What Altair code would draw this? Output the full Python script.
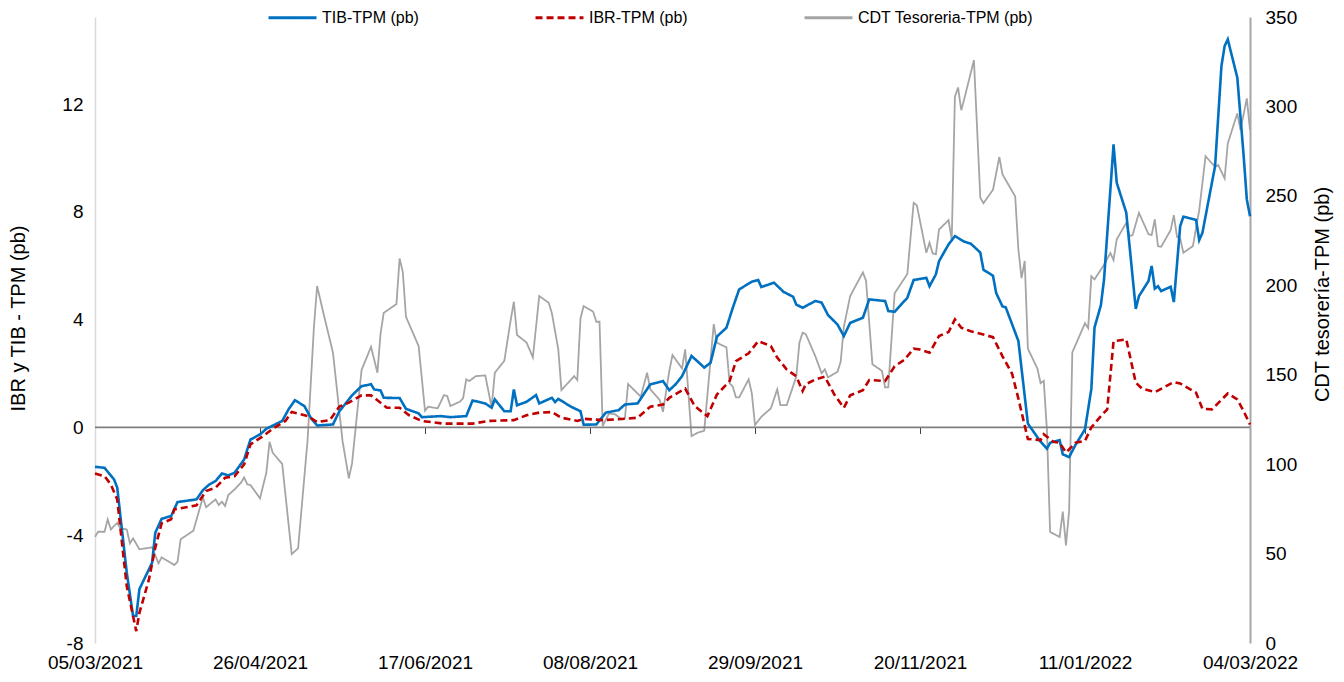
import altair as alt
import pandas as pd

# ---------------- data ----------------
start_date = "2021-03-05"   # day 0 of the series

series_names = ["TIB-TPM (pb)", "IBR-TPM (pb)", "CDT Tesoreria-TPM (pb)"]

tib_days = [0, 3, 6, 7, 10, 12, 13, 14, 18, 19,
            21, 24, 26, 32, 34, 36, 38, 40, 42, 44,
            47, 49, 52, 54, 59, 61, 63, 66, 68, 70,
            75, 77, 79, 81, 84, 87, 88, 90, 91, 96,
            98, 102, 103, 109, 112, 117, 119, 123, 125, 126,
            129, 131, 132, 133, 136, 139, 140, 144, 145, 146,
            150, 153, 154, 158, 161, 165, 167, 171, 175, 179,
            181, 183, 185, 188, 190, 192, 194, 196, 199, 201,
            203, 207, 209, 210, 214, 217, 220, 221, 223, 227,
            229, 231, 234, 236, 238, 242, 244, 249, 250, 252,
            256, 258, 262, 263, 265, 266, 269, 271, 274, 276,
            279, 280, 283, 284, 286, 287, 291, 294, 298, 300,
            301, 304, 305, 307, 309, 312, 314, 315, 317, 318,
            321, 322, 325, 328, 329, 332, 333, 334, 335, 336,
            339, 340, 342, 343, 347, 348, 349, 353, 355, 356,
            357, 360, 362, 363, 364]
tib_vals = [-1.46, -1.50, -1.93, -2.23, -5.38, -7.0, -7.0, -6.0, -5.02, -3.91,
            -3.39, -3.29, -2.77, -2.67, -2.33, -2.12, -1.99, -1.71, -1.78, -1.68,
            -1.19, -0.45, -0.26, -0.05, 0.24, 0.67, 1.01, 0.79, 0.36, 0.07,
            0.11, 0.60, 0.89, 1.19, 1.53, 1.60, 1.41, 1.37, 1.10, 1.09,
            0.69, 0.52, 0.38, 0.42, 0.38, 0.42, 1.00, 0.89, 0.73, 1.04,
            0.60, 0.60, 1.41, 0.82, 0.95, 1.20, 0.89, 1.10, 0.94, 1.06,
            0.77, 0.60, 0.10, 0.11, 0.55, 0.64, 0.85, 0.89, 1.60, 1.72,
            1.38, 1.60, 1.90, 2.65, 2.44, 2.22, 2.40, 3.37, 3.70, 4.44,
            5.12, 5.41, 5.47, 5.21, 5.37, 5.03, 4.85, 4.56, 4.44, 4.69,
            4.63, 4.17, 3.82, 3.39, 3.88, 4.07, 4.75, 4.69, 4.32, 4.29,
            4.81, 5.47, 5.55, 5.24, 5.68, 6.17, 6.79, 7.10, 6.89, 6.82,
            6.49, 5.85, 5.63, 4.99, 4.49, 4.46, 3.21, 0.14, -0.53, -0.79,
            -0.57, -0.47, -1.00, -1.10, -0.65, -0.07, 1.43, 3.71, 4.53, 5.49,
            10.50, 9.08, 7.97, 4.40, 4.87, 5.43, 5.99, 5.15, 5.24, 5.06,
            5.22, 4.65, 7.47, 7.82, 7.70, 6.95, 7.22, 9.70, 13.41, 14.15,
            14.40, 12.98, 10.07, 8.46, 7.84]

ibr_days = [0, 3, 5, 7, 10, 13, 14, 17, 19, 21,
            24, 25, 32, 35, 38, 41, 44, 47, 49, 53,
            56, 60, 62, 67, 70, 74, 77, 80, 84, 87,
            89, 92, 96, 99, 103, 110, 119, 124, 132, 136,
            140, 144, 147, 152, 154, 160, 167, 171, 175, 179,
            181, 186, 189, 193, 196, 200, 202, 206, 209, 213,
            215, 218, 221, 223, 224, 227, 230, 233, 236, 238,
            242, 244, 249, 252, 255, 258, 260, 263, 266, 269,
            271, 273, 276, 283, 286, 289, 291, 294, 298, 299,
            302, 304, 306, 309, 312, 314, 317, 319, 321, 325,
            328, 330, 334, 340, 342, 347, 349, 352, 357, 360,
            362, 364]
ibr_vals = [-1.71, -1.81, -2.12, -2.67, -5.89, -7.56, -6.88, -5.64, -4.46, -3.56,
            -3.41, -3.04, -2.89, -2.36, -2.24, -1.87, -1.81, -1.37, -0.63, -0.32,
            -0.05, 0.24, 0.57, 0.42, 0.20, 0.27, 0.77, 0.92, 1.19, 1.19,
            1.01, 0.73, 0.73, 0.45, 0.24, 0.14, 0.14, 0.24, 0.27, 0.45,
            0.55, 0.57, 0.36, 0.24, 0.32, 0.27, 0.32, 0.36, 0.77, 0.85,
            1.10, 1.44, 0.79, 0.42, 1.22, 1.72, 2.46, 2.75, 3.20, 3.02,
            2.59, 2.15, 1.90, 1.35, 1.60, 1.78, 1.88, 1.22, 0.73, 1.19,
            1.38, 1.76, 1.72, 2.27, 2.50, 2.92, 2.89, 2.77, 3.39, 3.54,
            4.01, 3.70, 3.57, 3.35, 2.64, 2.00, 1.07, -0.43, -0.47, -0.25,
            -0.53, -0.57, -0.93, -0.57, -0.50, 0.00, 0.42, 0.67, 3.20, 3.27,
            1.66, 1.44, 1.31, 1.68, 1.63, 1.29, 0.69, 0.67, 1.26, 1.04,
            0.60, 0.11]

cdt_days = [0, 1, 3, 4, 5, 7, 8, 10, 11, 12,
            14, 18, 20, 21, 25, 26, 27, 31, 34, 35,
            38, 39, 40, 41, 42, 44, 46, 47, 48, 49,
            52, 54, 55, 56, 59, 62, 64, 67, 69, 70,
            72, 75, 78, 80, 81, 84, 87, 89, 90, 91,
            95, 96, 97, 98, 102, 104, 105, 108, 110, 111,
            112, 115, 116, 117, 118, 120, 123, 125, 126, 129,
            131, 132, 133, 136, 138, 140, 143, 144, 146, 147,
            151, 152, 153, 154, 157, 158, 159, 160, 162, 164,
            166, 167, 168, 172, 174, 175, 178, 179, 181, 182,
            185, 186, 188, 190, 192, 195, 196, 199, 200, 201,
            202, 203, 206, 207, 208, 210, 213, 215, 216, 218,
            221, 222, 223, 224, 227, 229, 230, 231, 234, 235,
            236, 238, 242, 243, 245, 248, 249, 250, 252, 256,
            258, 259, 262, 263, 264, 265, 266, 269, 270, 271,
            272, 273, 274, 277, 279, 280, 283, 285, 286, 290,
            291, 292, 293, 294, 297, 298, 299, 300, 301, 304,
            305, 306, 307, 308, 312, 313, 314, 315, 318, 320,
            321, 322, 325, 326, 327, 329, 332, 333, 334, 335,
            336, 339, 340, 341, 342, 343, 346, 348, 350, 353,
            354, 356, 357, 360, 361, 363, 364]
cdt_vals = [59.4, 62.2, 62.2, 69.1, 63.5, 67.2, 64.1, 63.5, 55.7, 58.5,
            52.4, 53.5, 44.5, 47.9, 43.6, 45.4, 58.0, 62.8, 81.4, 75.9,
            80.3, 77.1, 79.0, 76.6, 82.7, 85.9, 89.6, 92.6, 88.7, 88.3,
            80.9, 95.2, 112.5, 106.4, 100.1, 49.7, 52.9, 113.5, 176.8, 199.6,
            184.3, 162.3, 113.1, 92.1, 100.4, 152.6, 165.6, 151.1, 173.1, 184.6,
            189.5, 215.0, 207.5, 182.4, 166.0, 129.9, 132.1, 131.2, 138.6, 138.1,
            132.5, 134.9, 136.8, 147.4, 146.5, 149.2, 149.6, 131.7, 151.1, 157.8,
            180.5, 190.8, 172.2, 168.0, 159.7, 194.0, 190.2, 184.3, 164.2, 141.4,
            149.2, 147.0, 181.5, 188.4, 185.2, 179.6, 179.6, 121.3, 128.4, 127.8,
            125.0, 125.6, 144.8, 137.7, 151.1, 141.8, 135.8, 129.3, 152.2, 161.0,
            153.5, 164.2, 115.7, 117.6, 118.7, 178.3, 167.9, 165.3, 145.2, 143.3,
            137.3, 137.3, 147.4, 139.6, 121.9, 126.5, 131.2, 141.8, 133.0, 133.0,
            148.9, 167.9, 173.5, 172.7, 160.4, 150.8, 153.0, 148.5, 151.6, 157.2,
            176.8, 194.0, 207.2, 202.5, 155.8, 152.2, 142.9, 142.9, 195.5, 206.3,
            246.1, 244.8, 218.2, 223.8, 217.8, 217.3, 231.2, 236.4, 225.3, 305.4,
            310.6, 297.9, 304.5, 325.9, 249.1, 245.9, 253.4, 271.7, 262.0, 249.7,
            220.1, 204.0, 213.6, 164.6, 153.4, 145.3, 146.6, 119.1, 62.1, 59.3,
            73.5, 54.6, 73.9, 162.5, 178.8, 176.0, 205.0, 203.3, 211.5, 218.0,
            214.1, 225.7, 234.9, 227.5, 228.1, 240.5, 228.6, 228.1, 236.8, 221.9,
            221.5, 230.9, 239.2, 227.1, 226.2, 218.2, 221.9, 242.0, 272.2, 266.2,
            267.2, 259.8, 279.3, 296.1, 286.8, 304.5, 286.8]

x_tick_dates = ["2021-03-05", "2021-04-26", "2021-06-17", "2021-08-08",
                "2021-09-29", "2021-11-20", "2022-01-11", "2022-03-04"]
left_ticks = [-8, -4, 0, 4, 8, 12]
right_ticks = [0, 50, 100, 150, 200, 250, 300, 350]
zero_line = [0]

# ---------------- tables ----------------
t0 = pd.Timestamp(start_date)


def frame(days, vals, name):
    return pd.DataFrame({
        "date": [t0 + pd.Timedelta(days=d) for d in days],
        "value": vals,
        "series": name,
    })


left_df = pd.concat([frame(tib_days, tib_vals, series_names[0]),
                     frame(ibr_days, ibr_vals, series_names[1])], ignore_index=True)
right_df = frame(cdt_days, cdt_vals, series_names[2])
zero_df = pd.DataFrame({"value": zero_line})


def dt(s):
    y, m, d = (int(p) for p in s.split("-"))
    return alt.DateTime(year=y, month=m, date=d)


tick_values = [dt(s) for s in x_tick_dates]

# ---------------- style ----------------
FONT = "Liberation Sans"
W, H = 1155, 626
LEFT_MIN, LEFT_MAX = -8, 15.23

x_scale = alt.Scale(domain=[dt(x_tick_dates[0]), dt(x_tick_dates[-1])])
left_scale = alt.Scale(domain=[LEFT_MIN, LEFT_MAX], nice=False, zero=False)
right_scale = alt.Scale(domain=[0, 350], nice=False)

color_scale = alt.Scale(domain=series_names, range=["#0070C0", "#C00000", "#A5A5A5"])
dash_scale = alt.Scale(domain=series_names, range=[[1, 0], [7, 4], [1, 0]])

legend = alt.Legend(
    title=None, orient="none", legendX=172, legendY=-25, direction="horizontal",
    columns=3, columnPadding=110, symbolType="stroke", symbolSize=2300,
    symbolStrokeWidth=3, labelFontSize=16, labelFont=FONT, labelColor="#000000",
    labelOffset=4, labelLimit=0, padding=0,
)

left_axis = alt.Axis(
    orient="left", values=left_ticks, grid=False, ticks=False, domain=True,
    domainColor="#D9D9D9", domainWidth=1.5, labelFontSize=19, labelFont=FONT,
    labelColor="#000000", labelPadding=12, labelExpr="toString(datum.value)",
    title="IBR y TIB - TPM (pb)", titleFont=FONT, titleFontSize=20,
    titleFontWeight="normal", titleColor="#000000", titleAngle=270,
    titleX=-77, titleY=301, titleAlign="center", titleBaseline="middle",
)
right_axis = alt.Axis(
    orient="right", values=right_ticks, grid=False, ticks=False, domain=True,
    domainColor="#A6A6A6", domainWidth=2, labelFontSize=19, labelFont=FONT,
    labelColor="#000000", labelPadding=15,
    title="CDT tesorería-TPM (pb)", titleFont=FONT, titleFontSize=20,
    titleFontWeight="normal", titleColor="#000000", titleAngle=270,
    titleX=72, titleY=277, titleAlign="center", titleBaseline="middle",
)
x_label_axis = alt.Axis(
    orient="bottom", values=tick_values, format="%d/%m/%Y", grid=False,
    ticks=False, domain=False, labelFontSize=19, labelFont=FONT,
    labelColor="#000000", labelPadding=10, labelFlush=False, labelOverlap=False,
    title=None,
)
zero_offset = -H * (0 - LEFT_MIN) / (LEFT_MAX - LEFT_MIN)
x_tick_axis = alt.Axis(
    orient="bottom", values=tick_values, grid=False, labels=False, domain=False,
    ticks=True, tickSize=6, tickColor="#404040", tickWidth=1,
    offset=zero_offset, title=None,
)

# ---------------- layers ----------------
cdt_line = alt.Chart(right_df).mark_line(strokeWidth=1.8).encode(
    x=alt.X("date:T", scale=x_scale, axis=x_label_axis),
    y=alt.Y("value:Q", scale=right_scale, axis=right_axis),
    color=alt.Color("series:N", scale=color_scale, legend=legend),
    strokeDash=alt.StrokeDash("series:N", scale=dash_scale, legend=legend),
)

zero_rule = alt.Chart(zero_df).mark_rule(color="#7F7F7F", strokeWidth=1.6).encode(
    y=alt.Y("value:Q", scale=left_scale, axis=left_axis),
)

left_lines = alt.Chart(left_df).mark_line(strokeWidth=2.6).encode(
    x=alt.X("date:T", scale=x_scale, axis=x_tick_axis),
    y=alt.Y("value:Q", scale=left_scale, axis=left_axis),
    color=alt.Color("series:N", scale=color_scale, legend=legend),
    strokeDash=alt.StrokeDash("series:N", scale=dash_scale, legend=legend),
    detail="series:N",
)

left_group = alt.layer(zero_rule, left_lines)

chart = (
    alt.layer(cdt_line, left_group)
    .resolve_scale(y="independent")
    .resolve_axis(x="independent")
    .properties(
        width=W, height=H,
        autosize=alt.AutoSizeParams(type="none"),
        padding={"left": 87, "top": 9, "right": 86, "bottom": 31},
        background="white",
    )
    .configure_view(stroke=None)
)

chart.save("out.html", embed_options={"renderer": "svg", "actions": False})
